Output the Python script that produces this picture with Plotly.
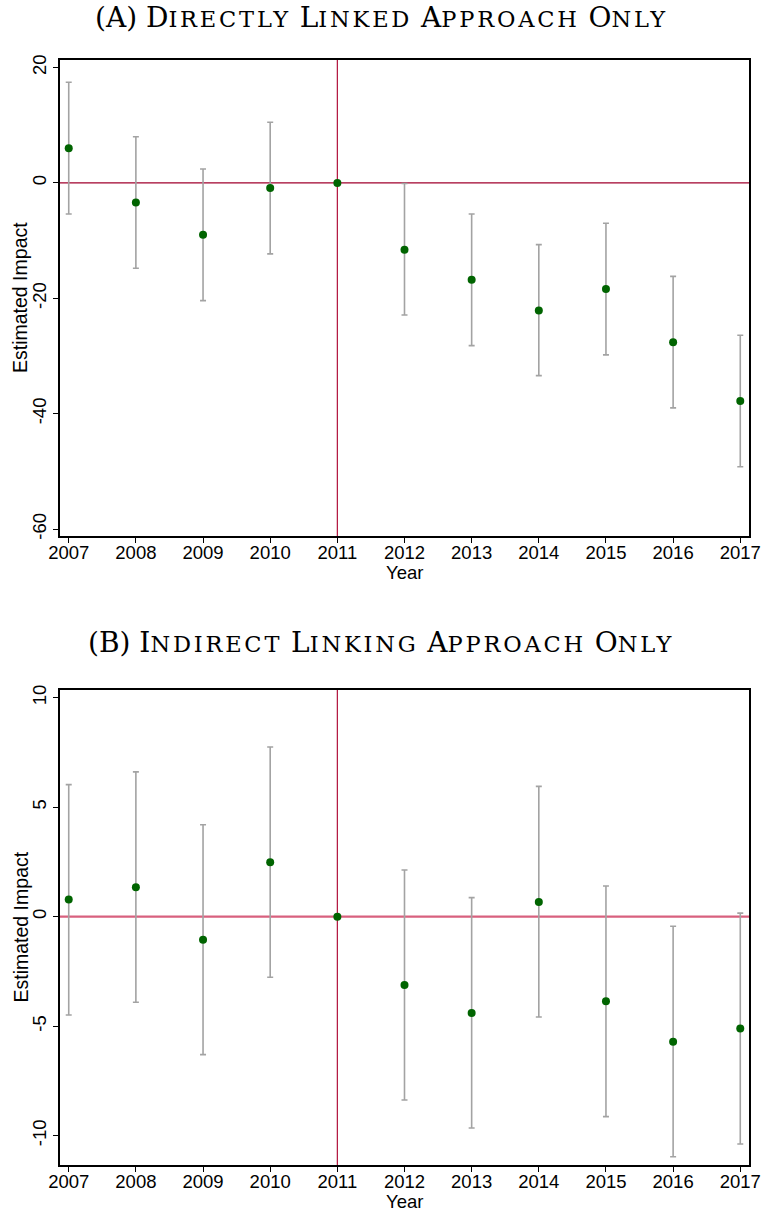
import plotly.graph_objects as go

# Event-study estimates with 95% confidence bounds
years = [2007, 2008, 2009, 2010, 2011, 2012, 2013, 2014, 2015, 2016, 2017]

direct_est = [6.0, -3.4, -9.0, -0.9, 0.0, -11.6, -16.8, -22.1, -18.4, -27.6, -37.8]
direct_lo = [-5.4, -14.8, -20.4, -12.3, None, -22.9, -28.2, -33.4, -29.8, -39.0, -49.2]
direct_hi = [17.45, 8.0, 2.4, 10.5, None, -0.1, -5.4, -10.7, -7.0, -16.2, -26.4]

indirect_est = [0.78, 1.34, -1.06, 2.48, 0.0, -3.12, -4.40, 0.67, -3.86, -5.71, -5.11]
indirect_lo = [-4.49, -3.91, -6.30, -2.77, None, -8.37, -9.65, -4.58, -9.13, -10.96, -10.38]
indirect_hi = [6.03, 6.61, 4.20, 7.75, None, 2.13, 0.87, 5.95, 1.40, -0.44, 0.16]

yticks_a = [-60, -40, -20, 0, 20]
yticks_b = [-10, -5, 0, 5, 10]

W, H = 762, 1211
SANS = "Liberation Sans, Arial, sans-serif"
SERIF = "DejaVu Serif, serif"
TICK_SIZE = 18.5


def small_caps(text, small=22.5):
    out = []
    for word in text.split(" "):
        if word[0].isalpha():
            out.append(word[0] + "<span style='font-size:%spx;letter-spacing:2.8px'>%s</span>"
                       % (small, word[1:].upper()))
        else:
            out.append(word)
    return " ".join(out)


def err(est, lo, hi):
    plus = [None if h is None else h - e for e, h in zip(est, hi)]
    minus = [None if l is None else e - l for e, l in zip(est, lo)]
    return plus, minus


fig = go.Figure()

panels = [
    ("x", "y", direct_est, direct_lo, direct_hi),
    ("x2", "y2", indirect_est, indirect_lo, indirect_hi),
]
for xa, ya, est, lo, hi in panels:
    plus, minus = err(est, lo, hi)
    fig.add_trace(go.Scatter(
        x=years, y=est, xaxis=xa, yaxis=ya, mode="markers",
        marker=dict(color="#006400", size=8),
        error_y=dict(type="data", symmetric=False, array=plus, arrayminus=minus,
                     color="#a3a3a3", thickness=1.6, width=3),
        showlegend=False,
    ))

xdom = [60 / W, 749 / W]
dom_a = [1 - 536 / H, 1 - 60 / H]
dom_b = [1 - 1165 / H, 1 - 690 / H]

axis_common = dict(
    showgrid=False, zeroline=False, showline=True, linecolor="black", linewidth=1.5,
    mirror=True, ticks="outside", ticklen=5, tickwidth=1.2, tickcolor="black",
    automargin=False,
    tickfont=dict(family=SANS, size=TICK_SIZE, color="black"),
)
xrange = [2006.87, 2017.13]

fig.update_layout(
    width=W, height=H, margin=dict(l=0, r=0, t=0, b=0),
    plot_bgcolor="white", paper_bgcolor="white",
    xaxis=dict(domain=xdom, anchor="y", range=xrange, tickvals=years,
               ticklabelstandoff=-6, **axis_common),
    yaxis=dict(domain=dom_a, anchor="x", range=[-61.2, 21.3], tickvals=yticks_a,
               ticktext=[str(v) for v in yticks_a], tickangle=-90, **axis_common),
    xaxis2=dict(domain=xdom, anchor="y2", range=xrange, tickvals=years,
                ticklabelstandoff=-6, **axis_common),
    yaxis2=dict(domain=dom_b, anchor="x2", range=[-11.34, 10.35], tickvals=yticks_b,
                ticktext=[str(v) for v in yticks_b], tickangle=-90, **axis_common),
)

# Reference lines: zero effect and the 2011 base year
fig.add_shape(type="line", xref="x domain", yref="y", x0=0, x1=1, y0=0, y1=0,
              line=dict(color="#a0002c", width=1.4), layer="below")
fig.add_shape(type="line", xref="x", yref="y domain", x0=2011, x1=2011, y0=0, y1=1,
              line=dict(color="#b0103a", width=1.2), layer="below")
fig.add_shape(type="line", xref="x2 domain", yref="y2", x0=0, x1=1, y0=0, y1=0,
              line=dict(color="#d8607e", width=2.2), layer="below")
fig.add_shape(type="line", xref="x2", yref="y2 domain", x0=2011, x1=2011, y0=0, y1=1,
              line=dict(color="#b0103a", width=1.2), layer="below")

titles = [
    ("(A) Directly Linked Approach Only", 30),
    ("(B) Indirect Linking Approach Only", 655),
]
for text, base in titles:
    fig.add_annotation(text=small_caps(text), xref="paper", yref="paper",
                       x=0.5, y=1 - (base + 6) / H, xanchor="center", yanchor="bottom",
                       showarrow=False, font=dict(family=SERIF, size=28, color="black"))

for top, bottom in [(60, 536), (690, 1165)]:
    fig.add_annotation(text="Year", xref="paper", yref="paper",
                       x=(60 + 749) / 2 / W, y=1 - (bottom + 24) / H,
                       xanchor="center", yanchor="top", showarrow=False,
                       font=dict(family=SANS, size=TICK_SIZE, color="black"))
    fig.add_annotation(text="Estimated Impact", xref="paper", yref="paper",
                       x=20 / W, y=1 - (top + bottom) / 2 / H, textangle=-90,
                       xanchor="center", yanchor="middle", showarrow=False,
                       font=dict(family=SANS, size=19.5, color="black"))

fig.write_html("out.html")
